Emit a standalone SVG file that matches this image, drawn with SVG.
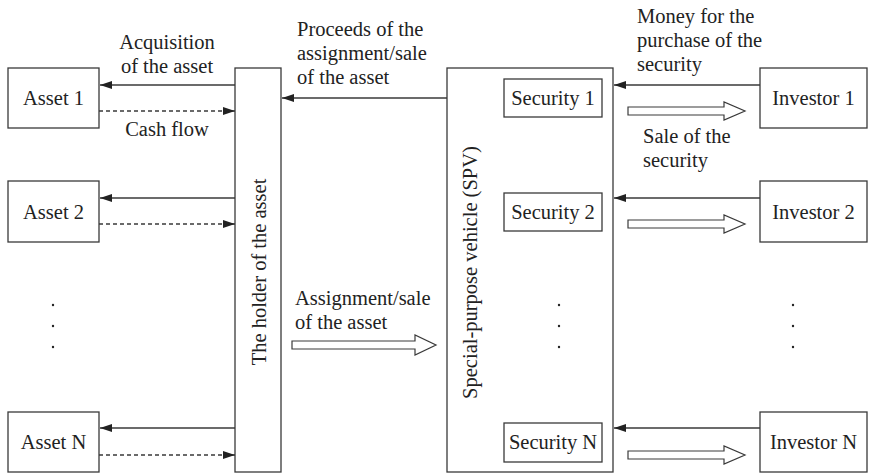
<svg xmlns="http://www.w3.org/2000/svg" width="872" height="474" viewBox="0 0 872 474">
  <style>
    .box { fill: #ffffff; stroke: #3a3a3a; stroke-width: 1.3; }
    .lbl { font-family: "Liberation Serif", "Times New Roman", serif; font-size: 20.5px; fill: #222222; }
    .mid { text-anchor: middle; }
    .line { fill: none; stroke: #3a3a3a; stroke-width: 1.3; }
    .dash { fill: none; stroke: #3a3a3a; stroke-width: 1.3; stroke-dasharray: 4 3; }
    .hollow { fill: #ffffff; stroke: #3a3a3a; stroke-width: 1.2; stroke-linejoin: miter; }
    .dot { fill: #222222; }
  </style>
  <defs>
    <marker id="head" viewBox="0 0 12 8" refX="12" refY="4" markerWidth="12" markerHeight="8" markerUnits="userSpaceOnUse" orient="auto">
      <path d="M0,0 L12,4 L0,8 Z" fill="#222222"/>
    </marker>
    <!-- hollow block arrow, drawn pointing right from x=0, centred on y=0 -->
    <path id="blockArrow" d="M0,-4 H96 V-9 L117,0 L96,9 V4 H0 Z"/>
  </defs>

  <!-- assets -->
  <g id="asset1">
    <rect class="box" x="8" y="68" width="91" height="60"/>
    <text class="lbl mid" x="53.5" y="105">Asset 1</text>
  </g>
  <g id="asset2">
    <rect class="box" x="8" y="181" width="91" height="61"/>
    <text class="lbl mid" x="53.5" y="219">Asset 2</text>
  </g>
  <g id="assetN">
    <rect class="box" x="8" y="412" width="91" height="60"/>
    <text class="lbl mid" x="53.5" y="449">Asset N</text>
  </g>
  <g id="assetDots">
    <circle class="dot" cx="53" cy="305" r="1.2"/>
    <circle class="dot" cx="53" cy="326" r="1.2"/>
    <circle class="dot" cx="53" cy="347" r="1.2"/>
  </g>

  <!-- holder of the asset -->
  <g id="holder">
    <rect class="box" x="235" y="68" width="46" height="404"/>
    <text class="lbl mid" transform="translate(266,272) rotate(-90)">The holder of the asset</text>
  </g>

  <!-- special-purpose vehicle with its securities -->
  <g id="spv">
    <rect class="box" x="447" y="68" width="166" height="404"/>
    <text class="lbl mid" transform="translate(477,272.5) rotate(-90)">Special-purpose vehicle (SPV)</text>
  </g>
  <g id="security1">
    <rect class="box" x="504" y="79" width="98" height="38"/>
    <text class="lbl mid" x="553" y="105">Security 1</text>
  </g>
  <g id="security2">
    <rect class="box" x="504" y="193" width="98" height="38"/>
    <text class="lbl mid" x="553" y="219">Security 2</text>
  </g>
  <g id="securityN">
    <rect class="box" x="504" y="423" width="98" height="39"/>
    <text class="lbl mid" x="553" y="449">Security N</text>
  </g>
  <g id="securityDots">
    <circle class="dot" cx="559" cy="305" r="1.2"/>
    <circle class="dot" cx="559" cy="326" r="1.2"/>
    <circle class="dot" cx="559" cy="347" r="1.2"/>
  </g>

  <!-- investors -->
  <g id="investor1">
    <rect class="box" x="760" y="68" width="107" height="60"/>
    <text class="lbl mid" x="813.5" y="105">Investor 1</text>
  </g>
  <g id="investor2">
    <rect class="box" x="760" y="181" width="107" height="61"/>
    <text class="lbl mid" x="813.5" y="219">Investor 2</text>
  </g>
  <g id="investorN">
    <rect class="box" x="760" y="412" width="107" height="60"/>
    <text class="lbl mid" x="813.5" y="449">Investor N</text>
  </g>
  <g id="investorDots">
    <circle class="dot" cx="793" cy="305" r="1.2"/>
    <circle class="dot" cx="793" cy="326" r="1.2"/>
    <circle class="dot" cx="793" cy="347" r="1.2"/>
  </g>

  <!-- connectors -->
  <g id="connectors">
    <!-- holder to assets: acquisition (solid) and cash flow back (dashed) -->
    <line class="line" x1="235" y1="85" x2="100" y2="85" marker-end="url(#head)"/>
    <line class="dash" x1="99" y1="111" x2="235" y2="111" marker-end="url(#head)"/>
    <line class="line" x1="235" y1="198" x2="100" y2="198" marker-end="url(#head)"/>
    <line class="dash" x1="99" y1="224" x2="235" y2="224" marker-end="url(#head)"/>
    <line class="line" x1="235" y1="428" x2="100" y2="428" marker-end="url(#head)"/>
    <line class="dash" x1="99" y1="455" x2="235" y2="455" marker-end="url(#head)"/>

    <!-- SPV pays the holder -->
    <line class="line" x1="447" y1="98" x2="282" y2="98" marker-end="url(#head)"/>

    <!-- assignment of the asset to the SPV -->
    <path class="hollow" d="M292,341 H415 V335 L436,345 L415,355 V349 H292 Z"/>

    <!-- investors pay the SPV -->
    <line class="line" x1="760" y1="85" x2="614" y2="85" marker-end="url(#head)"/>
    <line class="line" x1="760" y1="198" x2="614" y2="198" marker-end="url(#head)"/>
    <line class="line" x1="760" y1="428" x2="614" y2="428" marker-end="url(#head)"/>

    <!-- securities sold to investors -->
    <use href="#blockArrow" class="hollow" x="628" y="111"/>
    <use href="#blockArrow" class="hollow" x="628" y="224"/>
    <use href="#blockArrow" class="hollow" x="628" y="455"/>
  </g>

  <!-- connector labels -->
  <g id="labels">
    <text class="lbl mid" x="167" y="49">Acquisition</text>
    <text class="lbl mid" x="167" y="73">of the asset</text>
    <text class="lbl mid" x="167" y="136">Cash flow</text>

    <text class="lbl" x="297" y="36">Proceeds of the</text>
    <text class="lbl" x="297" y="60">assignment/sale</text>
    <text class="lbl" x="297" y="84">of the asset</text>

    <text class="lbl" x="295" y="305">Assignment/sale</text>
    <text class="lbl" x="295" y="329">of the asset</text>

    <text class="lbl" x="637" y="23">Money for the</text>
    <text class="lbl" x="637" y="47">purchase of the</text>
    <text class="lbl" x="637" y="71">security</text>

    <text class="lbl" x="643" y="143">Sale of the</text>
    <text class="lbl" x="643" y="167">security</text>
  </g>
</svg>
